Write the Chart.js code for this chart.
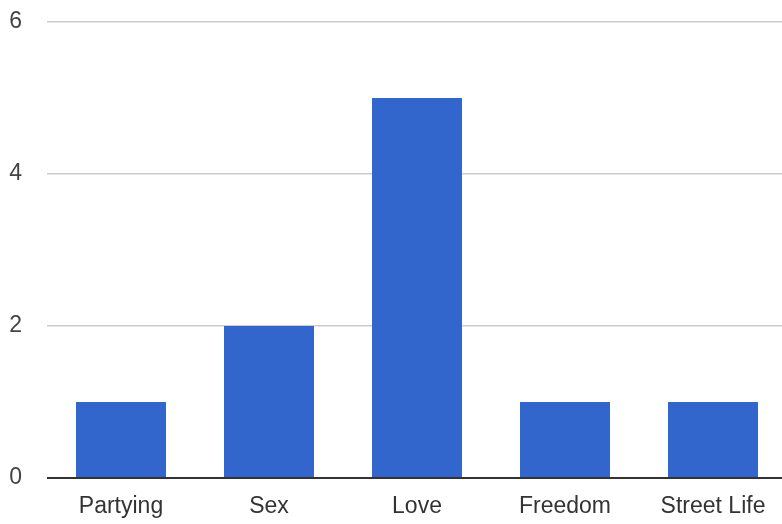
<!DOCTYPE html>
<html>
<head>
<meta charset="utf-8">
<script src="https://cdn.jsdelivr.net/npm/chart.js@4"></script>
<style>
  html, body { margin: 0; padding: 0; background: #fff; overflow: hidden; }
  #wrap { width: 787px; height: 524px; }
</style>
</head>
<body>
<div id="wrap"><canvas id="topicChart"></canvas></div>
<script>
const categories = ["Partying", "Sex", "Love", "Freedom", "Street Life"];
const counts = [1, 2, 5, 1, 1];
const yTicks = [0, 2, 4, 6];

const ctx = document.getElementById("topicChart");

new Chart(ctx, {
  type: "bar",
  data: {
    labels: categories,
    datasets: [{
      data: counts,
      backgroundColor: "#3366cc",
      borderWidth: 0,
      categoryPercentage: 1,
      barPercentage: 0.608
    }]
  },
  options: {
    responsive: true,
    maintainAspectRatio: false,
    animation: false,
    layout: { padding: { top: 22, right: 0, left: 0, bottom: 0 } },
    plugins: { legend: { display: false }, tooltip: { enabled: false } },
    scales: {
      x: {
        grid: { display: false },
        border: { display: false },
        ticks: {
          color: "#333",
          padding: 7,
          font: { family: "Liberation Sans", size: 23 }
        },
        afterFit: axis => {
          axis.height = 46;
          axis.paddingLeft = 0;
          axis.paddingRight = 0;
        }
      },
      y: {
        min: 0,
        max: 6,
        afterBuildTicks: axis => { axis.ticks = yTicks.map(v => ({ value: v })); },
        border: { display: false },
        grid: {
          drawTicks: false,
          color: c => c.tick && c.tick.value === 0 ? "#333" : "#ccc",
          lineWidth: c => c.tick && c.tick.value === 0 ? 2 : 1.5
        },
        ticks: {
          color: "#444",
          padding: 25,
          font: { family: "Liberation Sans", size: 23 }
        },
        afterFit: axis => {
          axis.width = 47;
          axis.paddingTop = 0;
          axis.paddingBottom = 0;
        }
      }
    }
  }
});
</script>
</body>
</html>
